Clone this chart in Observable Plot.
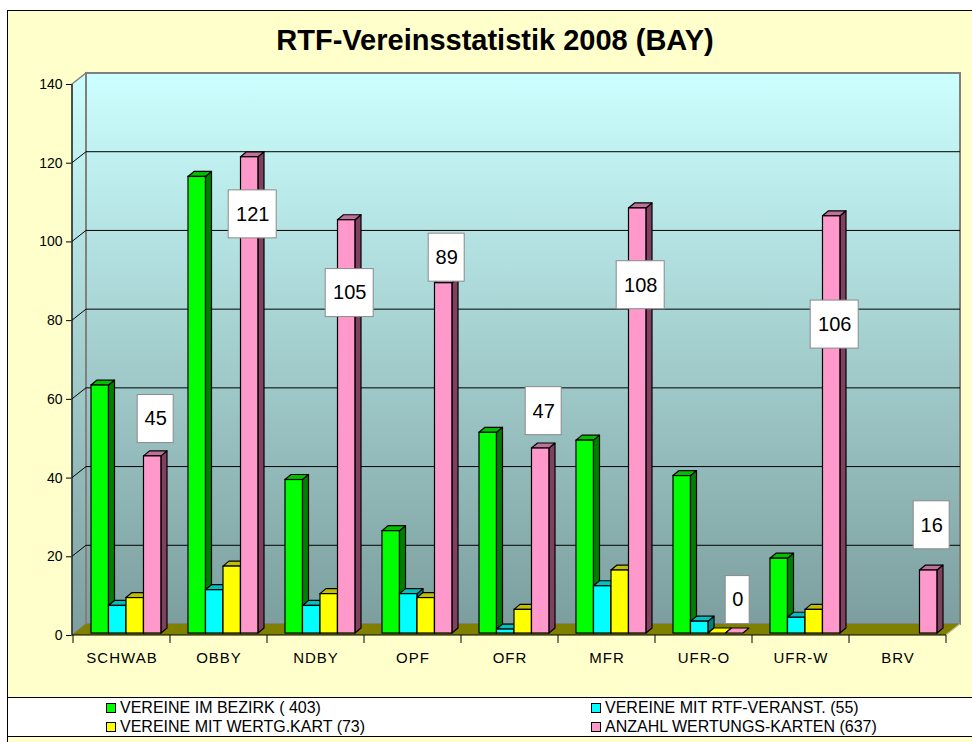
<!DOCTYPE html>
<html><head><meta charset="utf-8">
<script src="https://cdn.jsdelivr.net/npm/d3@7"></script>
<script src="https://cdn.jsdelivr.net/npm/@observablehq/plot@0.6"></script>
<style>
body{margin:0;background:#fff;font-family:"Liberation Sans",Arial,sans-serif;}
#wrap{position:relative;width:972px;height:742px;overflow:hidden;background:#fff;}
#frame{position:absolute;left:7px;top:10px;width:1000px;height:800px;background:#FFFFCC;border-left:1.5px solid #000;border-top:1.5px solid #000;}
#title{position:absolute;left:0;top:20px;width:990px;text-align:center;font-weight:bold;font-size:29px;line-height:40px;color:#000;}
#chart{position:absolute;left:0;top:60px;}
#legend{position:absolute;left:8px;top:697px;width:1000px;height:38px;background:#fff;border-top:1px solid #000;border-bottom:1px solid #000;font-size:16px;color:#000;}
.item{position:absolute;display:flex;align-items:center;white-space:nowrap;height:19px;line-height:19px;}
.sw{width:8px;height:8px;border:1px solid #000;margin-right:4px;}
#chart g[aria-label="x-axis tick label"] text, #chart g[aria-label="x-axis"] text{font-size:15px;letter-spacing:1px;}
#chart g[aria-label="y-axis tick label"] text, #chart g[aria-label="y-axis"] text{font-size:14px;}
</style>
</head>
<body>
<div id="wrap">
  <div id="frame"></div>
  <div id="title"></div>
  <div id="chart"></div>
  <div id="legend"></div>
</div>
<script>
// ---------- data ----------
const categories = ["SCHWAB", "OBBY", "NDBY", "OPF", "OFR", "MFR", "UFR-O", "UFR-W", "BRV"];
const vereineImBezirk = [63, 116, 39, 26, 51, 49, 40, 19, null];
const vereineMitRtf = [7, 11, 7, 10, 1, 12, 3, 4, null];
const vereineMitWertg = [9, 17, 10, 9, 6, 16, 0, 6, null];
const wertungsKarten = [45, 121, 105, 89, 47, 108, 0, 106, 16];
const labelPos = [55, 107, 87, 96, 57, 89, 9, 79, 28]; // where the value boxes sit (data units)
const seriesNames = ["VEREINE IM BEZIRK ( 403)", "VEREINE MIT RTF-VERANST. (55)", "VEREINE MIT WERTG.KART (73)", "ANZAHL WERTUNGS-KARTEN (637)"];
const yTicks = [0, 20, 40, 60, 80, 100, 120, 140];
const titleText = "RTF-Vereinsstatistik 2008 (BAY)";

// ---------- styles ----------
const frontColors = ["#00FF00", "#00FFFF", "#FFFF00", "#FF99CC"];
const sideColors = ["#008000", "#008080", "#808000", "#804060"];
const topColors = ["#00C000", "#00C0C0", "#C0C000", "#C07099"];
const seriesValues = [vereineImBezirk, vereineMitRtf, vereineMitWertg, wertungsKarten];

const W = 972, H = 630, ML = 72, MR = 26, MT = 24, MB = 55;
const BW = (W - ML - MR) / categories.length;
const GROUP_OFF = 18, BAR_W = 17.5, BDX = 6, BDY = -5, BASE_DY = -2;
const WDX = 14, WDY = -11;
const LABEL_DX = GROUP_OFF + 3.5 * BAR_W - BW / 2 + 3;

const rows = [];
categories.forEach((c, ci) => seriesValues.forEach((vals, si) => {
  if (vals[ci] != null) rows.push({cat: c, si, v: vals[ci]});
}));
const labelRows = categories.map((c, ci) => ({cat: c, v: wertungsKarten[ci], ly: labelPos[ci]}));

function bw(x) { return typeof x.bandwidth === "function" ? x.bandwidth() : (x.bandwidth ?? BW); }

// walls, floor, grid, axis lines
function walls(index, scales) {
  const x = scales.x, y = scales.y;
  const x0 = ML, xE = W - MR, y0 = y(0), yT = y(140);
  const g = d3.create("svg:g");
  const grad = g.append("defs").append("linearGradient").attr("id", "wallGrad")
    .attr("x1", 0).attr("y1", 0).attr("x2", 0).attr("y2", 1);
  grad.append("stop").attr("offset", "0%").attr("stop-color", "#CCFFFF");
  grad.append("stop").attr("offset", "100%").attr("stop-color", "#7C9E9E");
  g.append("polygon").attr("points", [[x0, yT], [x0 + WDX, yT + WDY], [x0 + WDX, y0 + WDY], [x0, y0]].join(" "))
    .attr("fill", "url(#wallGrad)").attr("stroke", "#808080").attr("stroke-width", 1.5);
  g.append("rect").attr("x", x0 + WDX).attr("y", yT + WDY).attr("width", xE - x0).attr("height", y0 - yT)
    .attr("fill", "url(#wallGrad)").attr("stroke", "#808080").attr("stroke-width", 2);
  g.append("polygon").attr("points", [[x0, y0], [x0 + WDX, y0 + WDY], [xE + WDX, y0 + WDY], [xE, y0]].join(" "))
    .attr("fill", "#808000");
  g.append("line").attr("x1", xE).attr("y1", y0).attr("x2", xE + WDX).attr("y2", y0 + WDY)
    .attr("stroke", "#C8C8A0").attr("stroke-width", 1.2);
  yTicks.filter(v => v > 0 && v < 140).forEach(v => {
    const yy = y(v);
    g.append("polyline").attr("points", [[x0, yy], [x0 + WDX, yy + WDY], [xE + WDX, yy + WDY]].join(" "))
      .attr("fill", "none").attr("stroke", "#000").attr("stroke-width", 1);
  });
  g.append("line").attr("x1", x0).attr("y1", yT).attr("x2", x0).attr("y2", y0).attr("stroke", "#000");
  g.append("line").attr("x1", x0).attr("y1", y0).attr("x2", xE).attr("y2", y0).attr("stroke", "#000");
  const b = bw(x);
  for (let k = 0; k <= categories.length; k++) {
    const xx = x(categories[0]) + k * b;
    g.append("line").attr("x1", xx).attr("y1", y0).attr("x2", xx).attr("y2", y0 + 8).attr("stroke", "#000");
  }
  return g.node();
}

// side and top faces of bars
function barDepth(index, scales) {
  const x = scales.x, y = scales.y;
  const g = d3.create("svg:g").attr("stroke", "#000").attr("stroke-width", 1.2).attr("stroke-linejoin", "round");
  rows.forEach(r => {
    const bx = x(r.cat) + GROUP_OFF + r.si * BAR_W;
    const by = y(r.v) + BASE_DY, base = y(0) + BASE_DY, w = BAR_W;
    if (r.v > 0) {
      g.append("polygon").attr("points", [[bx + w, by], [bx + w + BDX, by + BDY], [bx + w + BDX, base + BDY], [bx + w, base]].join(" "))
        .attr("fill", sideColors[r.si]);
    }
    g.append("polygon").attr("points", [[bx, by], [bx + BDX, by + BDY], [bx + w + BDX, by + BDY], [bx + w, by]].join(" "))
      .attr("fill", r.v > 0 ? topColors[r.si] : frontColors[r.si]);
  });
  return g.node();
}

// white boxes behind value labels
function labelBoxes(index, scales) {
  const x = scales.x, y = scales.y;
  const g = d3.create("svg:g");
  labelRows.forEach(r => {
    const cx = x(r.cat) + bw(x) / 2 + LABEL_DX, cy = y(r.ly);
    const w = 12 + 12 * String(r.v).length, h = 48;
    g.append("rect").attr("x", cx - w / 2).attr("y", cy - h / 2).attr("width", w).attr("height", h)
      .attr("fill", "#fff").attr("stroke", "#8a8a8a").attr("stroke-width", 1);
  });
  return g.node();
}

const frontBars = seriesValues.map((vals, si) => Plot.barY(rows.filter(r => r.si === si), {
  x: "cat", y: "v", fill: frontColors[si], stroke: "#000", strokeWidth: 1.2, dy: BASE_DY,
  insetLeft: GROUP_OFF + si * BAR_W, insetRight: BW - GROUP_OFF - (si + 1) * BAR_W
}));

const chart = Plot.plot({
  width: W, height: H, marginLeft: ML, marginRight: MR, marginTop: MT, marginBottom: MB,
  style: {background: "transparent", fontFamily: "'Liberation Sans', Arial, sans-serif", fontSize: "14px", color: "#000", overflow: "visible"},
  x: {domain: categories, padding: 0, tickSize: 0, tickPadding: 17, label: null},
  y: {domain: [0, 140], ticks: yTicks, tickSize: 6, tickPadding: 4, label: null},
  marks: [
    walls,
    barDepth,
    ...frontBars,
    labelBoxes,
    Plot.text(labelRows, {x: "cat", y: "ly", text: d => String(d.v), dx: LABEL_DX, fontSize: 20, fill: "#000"})
  ]
});
document.getElementById("chart").appendChild(chart);
document.getElementById("title").textContent = titleText;

// legend
const legend = document.getElementById("legend");
const pos = [[98, 0], [583, 0], [98, 19], [583, 19]];
seriesNames.forEach((name, i) => {
  const it = document.createElement("div");
  it.className = "item";
  it.style.left = pos[i][0] + "px";
  it.style.top = pos[i][1] + "px";
  const sw = document.createElement("span");
  sw.className = "sw";
  sw.style.background = frontColors[i];
  const t = document.createElement("span");
  t.textContent = name;
  it.appendChild(sw); it.appendChild(t);
  legend.appendChild(it);
});
</script>
</body></html>
